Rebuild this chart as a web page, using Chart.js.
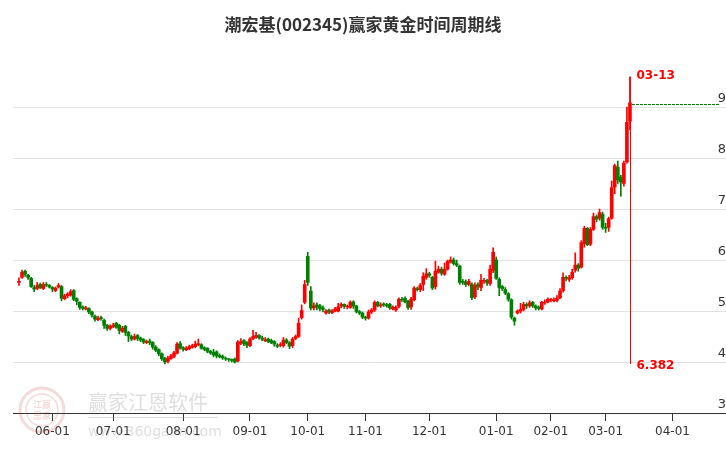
<!DOCTYPE html>
<html><head><meta charset="utf-8">
<script src="https://cdn.jsdelivr.net/npm/chart.js@4/dist/chart.umd.min.js"></script>
<style>html,body{margin:0;padding:0;background:#fff}#w{width:726px;height:450px}</style>
</head><body><div id="w"><canvas id="c"></canvas></div>
<script>
const title = "潮宏基(002345)赢家黄金时间周期线";
const opens = [5.56,5.66,5.78,5.70,5.64,5.46,5.44,5.52,5.44,5.51,
5.50,5.46,5.40,5.47,5.48,5.24,5.30,5.31,5.40,5.24,
5.17,5.08,5.04,5.05,4.98,4.90,4.83,4.87,4.82,4.72,
4.66,4.70,4.76,4.72,4.60,4.70,4.58,4.50,4.45,4.52,
4.47,4.44,4.38,4.41,4.38,4.29,4.24,4.16,4.07,4.01,
4.07,4.11,4.17,4.36,4.28,4.24,4.26,4.29,4.30,4.34,
4.34,4.28,4.27,4.21,4.19,4.20,4.13,4.11,4.07,4.05,
4.05,4.06,4.02,4.37,4.42,4.38,4.32,4.46,4.48,4.52,
4.47,4.42,4.45,4.42,4.40,4.33,4.33,4.32,4.43,4.38,
4.32,4.46,4.50,4.87,5.17,6.07,5.39,5.06,5.12,5.10,
5.06,4.96,5.02,4.97,5.00,5.00,5.10,5.13,5.08,5.07,
5.18,5.10,4.99,4.96,4.88,4.86,4.98,5.02,5.17,5.10,
5.14,5.12,5.13,5.04,5.02,5.09,5.23,5.25,5.19,5.08,
5.22,5.44,5.42,5.52,5.66,5.73,5.66,5.48,5.76,5.82,
5.72,5.82,5.96,6.00,5.93,5.88,5.58,5.57,5.52,5.52,
5.28,5.52,5.46,5.58,5.60,5.54,5.80,6.00,5.62,5.48,
5.42,5.34,5.22,4.86,4.96,5.00,5.03,5.13,5.10,5.17,
5.10,5.07,5.04,5.16,5.18,5.22,5.20,5.21,5.26,5.40,
5.66,5.62,5.65,5.80,5.90,5.86,6.32,6.62,6.31,6.60,
6.85,6.82,6.90,6.64,6.64,6.82,7.43,7.82,7.62,7.50,7.92,8.72];
const highs = [5.65,5.80,5.80,5.72,5.66,5.50,5.56,5.55,5.56,5.56,
5.52,5.48,5.47,5.54,5.50,5.33,5.36,5.42,5.42,5.26,
5.18,5.10,5.09,5.06,5.00,4.92,4.90,4.90,4.84,4.74,
4.73,4.76,4.78,4.74,4.70,4.72,4.60,4.53,4.55,4.54,
4.49,4.46,4.43,4.45,4.40,4.32,4.26,4.18,4.09,4.11,
4.15,4.21,4.38,4.40,4.30,4.30,4.33,4.35,4.41,4.45,
4.36,4.30,4.28,4.23,4.25,4.22,4.16,4.14,4.10,4.07,
4.06,4.08,4.42,4.46,4.44,4.40,4.48,4.62,4.58,4.54,
4.51,4.48,4.47,4.45,4.42,4.36,4.38,4.48,4.46,4.40,
4.48,4.53,4.86,5.12,5.60,6.15,5.48,5.16,5.16,5.13,
5.10,5.03,5.04,5.03,5.07,5.15,5.16,5.14,5.12,5.20,
5.20,5.11,5.01,4.98,4.90,5.02,5.05,5.20,5.19,5.16,
5.16,5.15,5.15,5.10,5.10,5.26,5.27,5.28,5.21,5.27,
5.48,5.47,5.54,5.75,5.83,5.76,5.68,5.98,5.88,5.86,
5.94,6.00,6.06,6.04,6.00,5.90,5.62,5.61,5.62,5.55,
5.55,5.55,5.72,5.64,5.62,5.90,6.24,6.06,5.65,5.50,
5.46,5.36,5.24,4.88,5.02,5.15,5.17,5.16,5.20,5.19,
5.12,5.10,5.19,5.22,5.26,5.25,5.26,5.30,5.44,5.75,
5.69,5.70,5.82,6.14,5.93,6.38,6.66,6.64,6.64,6.92,
6.88,7.00,6.94,6.72,6.84,7.55,7.88,7.94,7.66,7.94,9.00,9.59];
const lows = [5.50,5.64,5.68,5.62,5.46,5.38,5.42,5.44,5.42,5.48,
5.45,5.38,5.38,5.45,5.20,5.22,5.26,5.29,5.20,5.12,
5.03,5.02,5.02,4.95,4.88,4.80,4.81,4.82,4.66,4.62,
4.63,4.67,4.66,4.55,4.58,4.52,4.40,4.42,4.43,4.42,
4.40,4.36,4.36,4.34,4.25,4.20,4.12,4.03,3.96,3.98,
4.05,4.08,4.16,4.25,4.21,4.22,4.24,4.27,4.28,4.32,
4.25,4.22,4.18,4.15,4.10,4.08,4.08,4.05,4.03,4.01,
4.00,3.98,4.00,4.34,4.32,4.28,4.30,4.44,4.46,4.45,
4.42,4.40,4.38,4.36,4.31,4.28,4.30,4.29,4.36,4.26,
4.28,4.44,4.48,4.84,5.14,5.50,5.02,5.02,5.02,5.00,
4.98,4.94,4.95,4.95,4.98,4.98,5.06,5.05,5.04,5.05,
5.05,4.96,4.93,4.85,4.82,4.84,4.95,4.99,5.08,5.07,
5.09,5.07,5.03,5.02,4.99,5.06,5.19,5.16,5.03,5.03,
5.20,5.39,5.38,5.40,5.62,5.66,5.42,5.43,5.74,5.70,
5.70,5.80,5.94,5.90,5.87,5.52,5.52,5.48,5.49,5.22,
5.24,5.42,5.40,5.54,5.50,5.50,5.75,5.62,5.30,5.40,
5.32,5.19,4.84,4.72,4.94,4.96,5.00,5.05,5.07,5.07,
5.02,5.02,5.02,5.13,5.16,5.18,5.18,5.18,5.24,5.37,
5.59,5.58,5.62,5.76,5.78,5.84,6.25,6.28,6.28,6.58,
6.75,6.78,6.60,6.54,6.56,6.80,7.30,7.50,7.25,7.45,7.90,8.55];
const closes = [5.58,5.76,5.72,5.66,5.48,5.43,5.50,5.46,5.52,5.50,
5.47,5.43,5.45,5.50,5.25,5.30,5.33,5.38,5.23,5.19,
5.07,5.05,5.06,4.98,4.92,4.84,4.86,4.85,4.72,4.66,
4.70,4.72,4.68,4.62,4.66,4.58,4.51,4.45,4.50,4.46,
4.43,4.39,4.40,4.38,4.29,4.23,4.16,4.06,4.00,4.08,
4.12,4.18,4.35,4.28,4.25,4.27,4.30,4.32,4.35,4.36,
4.27,4.25,4.21,4.18,4.14,4.12,4.10,4.08,4.06,4.04,
4.03,4.00,4.39,4.40,4.36,4.33,4.45,4.50,4.52,4.48,
4.45,4.44,4.40,4.38,4.35,4.31,4.34,4.43,4.38,4.31,
4.45,4.50,4.76,5.01,5.52,5.56,5.06,5.10,5.08,5.05,
5.03,5.00,4.98,5.00,5.04,5.08,5.13,5.09,5.09,5.17,
5.10,4.99,4.96,4.88,4.86,4.98,5.02,5.17,5.10,5.12,
5.12,5.10,5.06,5.07,5.07,5.23,5.22,5.18,5.07,5.23,
5.45,5.42,5.50,5.68,5.73,5.70,5.45,5.78,5.82,5.74,
5.82,5.97,6.00,5.93,5.90,5.56,5.56,5.52,5.58,5.26,
5.50,5.48,5.60,5.60,5.55,5.82,6.15,5.64,5.46,5.44,
5.35,5.23,4.88,4.80,5.00,5.03,5.13,5.10,5.16,5.10,
5.06,5.05,5.17,5.17,5.23,5.22,5.22,5.25,5.39,5.66,
5.64,5.65,5.76,5.90,5.84,6.34,6.62,6.30,6.60,6.85,
6.80,6.93,6.64,6.62,6.81,7.42,7.85,7.57,7.53,7.90,8.70,9.08];
const monthTicks = [11,31,54,76,95,114,135,157,175,193,215];
const monthLabels = ["06-01","07-01","08-01","09-01","10-01","11-01","12-01","01-01","02-01","03-01","04-01"];
const yTicks = [3,4,5,6,7,8,9];
const markDay = 201, markTop = 9.59, markBottom = 3.96, markLabelTop = "03-13", markLabelBottom = "6.382";
const levelValue = 9.06;

const col = i => closes[i] >= opens[i] ? '#ff0000' : '#008000';
const wick = closes.map((c,i)=>({x:i,y:[lows[i],highs[i]]}));
const body = closes.map((c,i)=>{let a=opens[i],b=c; if(Math.abs(a-b)<0.01){b=a+0.012;} return {x:i,y:[a,b]};});

const overlay = {
  id:'overlay',
  afterDraw(ch){
    const {ctx,scales:{x,y}}=ch;
    ctx.save();
    ctx.fillStyle='#333'; ctx.font='13px "DejaVu Sans", Arial'; ctx.textAlign='right'; ctx.textBaseline='middle';
    yTicks.forEach(v=>ctx.fillText(String(v),726,y.getPixelForValue(v)-8));
    ctx.strokeStyle='#008000'; ctx.lineWidth=1; ctx.setLineDash([3,1]);
    const ly=Math.round(y.getPixelForValue(levelValue))+0.5;
    ctx.beginPath(); ctx.moveTo(x.getPixelForValue(markDay)+2,ly); ctx.lineTo(720,ly); ctx.stroke();
    ctx.setLineDash([]);
    const mx=Math.round(x.getPixelForValue(markDay))+0.5;
    ctx.strokeStyle='#ff0000'; ctx.beginPath(); ctx.moveTo(mx,y.getPixelForValue(markTop)); ctx.lineTo(mx,y.getPixelForValue(markBottom)); ctx.stroke();
    ctx.fillStyle='#ff0000'; ctx.font='bold 12px "DejaVu Sans", Arial'; ctx.textAlign='left';
    ctx.fillText(markLabelTop,mx+6,y.getPixelForValue(markTop)-1);
    ctx.fillText(markLabelBottom,mx+6,y.getPixelForValue(markBottom)+2);
    ctx.fillStyle='#333'; ctx.font='bold 17px "Noto Sans CJK SC", sans-serif'; ctx.textAlign='center';
    ctx.fillText(title,363,25);
    ctx.globalAlpha=0.18;
    ctx.strokeStyle='#c03030'; ctx.lineWidth=3;
    ctx.beginPath(); ctx.arc(42,410,22,0,Math.PI*2); ctx.stroke();
    ctx.lineWidth=1.5; ctx.beginPath(); ctx.arc(42,410,16,0,Math.PI*2); ctx.stroke();
    ctx.fillStyle='#c03030'; ctx.font='bold 9px "Noto Sans CJK SC"'; ctx.textAlign='center';
    ctx.fillText('江赢',42,405); ctx.fillText('恩家',42,416);
    ctx.globalAlpha=0.28;
    ctx.fillStyle='#888'; ctx.font='20px "Noto Sans CJK SC"'; ctx.textAlign='left';
    ctx.fillText('赢家江恩软件',88,402);
    ctx.fillRect(88,417,130,1);
    ctx.font='14px "DejaVu Sans"'; ctx.fillText('www.360gann.com',88,432);
    ctx.restore();
  }
};

new Chart(document.getElementById('c'),{
  type:'bar',
  data:{datasets:[
    {data:wick,barThickness:1,backgroundColor:c=>col(c.dataIndex),grouped:false,order:2},
    {data:body,barThickness:3,backgroundColor:c=>col(c.dataIndex),grouped:false,order:1}
  ]},
  options:{
    responsive:true,maintainAspectRatio:false,animation:false,
    layout:{padding:{left:13,top:56,right:0,bottom:0}},
    plugins:{legend:{display:false},tooltip:{enabled:false}},
    scales:{
      x:{type:'linear',offset:false,min:-1.97,max:232.6,
        afterBuildTicks:s=>{s.ticks=monthTicks.map(v=>({value:v}));},
        afterFit:s=>{s.height=37;},
        ticks:{callback:(v)=>monthLabels[monthTicks.indexOf(v)]||'',color:'#333',font:{size:12,family:'"DejaVu Sans", Arial'},padding:4,maxRotation:0,autoSkip:false},
        grid:{drawOnChartArea:false,tickLength:8,color:'#333',offset:false},
        border:{color:'#333'}},
      y:{position:'right',min:3,max:10,
        afterBuildTicks:s=>{s.ticks=[3,4,5,6,7,8,9,10].map(v=>({value:v}));},
        afterFit:s=>{s.width=0;},
        ticks:{display:false},
        grid:{color:c=>(c.tick&&(c.tick.value===10||c.tick.value===3))?'rgba(0,0,0,0)':'#e2e2e2',drawTicks:false},
        border:{display:false}}
    }
  },
  plugins:[overlay]
});
</script></body></html>
